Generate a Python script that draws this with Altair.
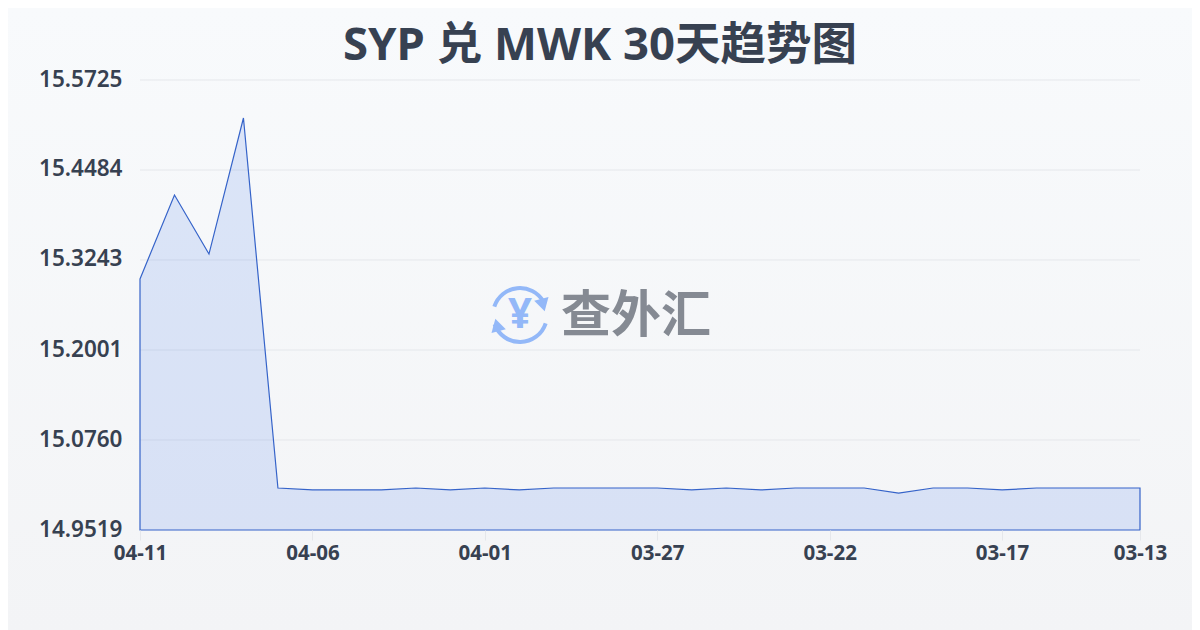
import math
import json
import altair as alt
import pandas as pd

dates = ["04-11","04-10","04-09","04-08","04-07","04-06","04-05","04-04","04-03","04-02",
         "04-01","03-31","03-30","03-29","03-28","03-27","03-26","03-25","03-24","03-23",
         "03-22","03-21","03-20","03-19","03-18","03-17","03-16","03-15","03-14","03-13"]
rates = [15.2981,15.4139,15.3325,15.5201,15.0098,15.0071,15.0071,15.0071,15.0098,15.0071,
         15.0098,15.0071,15.0098,15.0098,15.0098,15.0098,15.0071,15.0098,15.0071,15.0098,
         15.0098,15.0098,15.0029,15.0098,15.0098,15.0071,15.0098,15.0098,15.0098,15.0098]
y_ticks = [14.9519,15.0760,15.2001,15.3243,15.4484,15.5725]
x_ticks = [0, 5, 10, 15, 20, 25, 29]
title_text = "SYP 兑 MWK 30天趋势图"
mark_text = "查外汇"
FONT = "Noto Sans, Noto Sans CJK SC"
INK = "#374151"
BLUE = "#93b8f8"

df = pd.DataFrame({"idx": list(range(len(dates))), "date": dates, "rate": rates,
                   "base": [y_ticks[0]] * len(dates)})
one = pd.DataFrame({"a": [0]})
grid_df = pd.DataFrame({"rate": y_ticks[1:]})

yscale = alt.Scale(domain=[y_ticks[0], y_ticks[-1]], zero=False, nice=False)
x = alt.X("idx:Q", title=None,
          scale=alt.Scale(domain=[0, len(dates) - 1], nice=False, zero=False),
          axis=alt.Axis(values=x_ticks, labelExpr=json.dumps(dates) + "[datum.value]",
                        labelAngle=0, labelFontSize=20.5, labelFontWeight=700, labelFlush=False,
                        labelColor=INK, labelFont=FONT, labelPadding=3, tickColor="#e5e7eb",
                        tickSize=10, domain=False, grid=False, labelOverlap=False, zindex=1))
y = alt.Y("rate:Q", title=None, scale=yscale,
          axis=alt.Axis(values=y_ticks, format=".4f", labelFontSize=22.5, labelFontWeight=600,
                        labelColor=INK, labelFont=FONT, labelPadding=18, labelOffset=-1, tickSize=0,
                        labelFlush=False, domain=False, grid=False, zindex=1))

bg = alt.Chart(one).mark_rect(
    color=alt.LinearGradient(gradient="linear", x1=0, x2=0, y1=0, y2=1,
        stops=[alt.GradientStop(offset=0, color="#f8fafc"), alt.GradientStop(offset=1, color="#f3f4f6")])
).encode(x=alt.value(-132), x2=alt.value(1052), y=alt.value(-72), y2=alt.value(550))

grid = alt.Chart(grid_df).mark_rule(color="#e5e7eb", strokeWidth=1).encode(
    y=y, x=alt.value(0), x2=alt.value(1000))

area = alt.Chart(df).mark_area(
    stroke="#3563c9", strokeWidth=1.2, fill="#2f6be8", fillOpacity=0.14
).encode(x=x, y=y, y2="base:Q")

arc = lambda a, b: alt.Chart(one).mark_arc(color=BLUE).encode(
    x=alt.value(380), y=alt.value(235), radius=alt.value(29), radius2=alt.value(25),
    theta=alt.value(math.radians(a)), theta2=alt.value(math.radians(b)))
head = lambda px, py, ang: alt.Chart(one).mark_point(
    shape="triangle-up", filled=True, color=BLUE, opacity=1, size=220, angle=ang
).encode(x=alt.value(px), y=alt.value(py))
yen = alt.Chart(one).mark_text(text="¥", font=FONT, fontWeight="bold", fontSize=42, color=BLUE).encode(
    x=alt.value(380), y=alt.value(235))
wm = alt.Chart(one).mark_text(text=mark_text, font="Noto Sans CJK SC", fontWeight="bold", fontSize=50, color="#858a93").encode(
    x=alt.value(496), y=alt.value(237))
title = alt.Chart(one).mark_text(text=title_text, font=FONT, fontWeight="bold", fontSize=45.5, color=INK).encode(
    x=alt.value(460), y=alt.value(-34))

chart = alt.layer(
    bg, grid, area, arc(-72, 60), arc(108, 250), head(403, 225, 165), head(357, 245, 345), yen, wm, title
).properties(
    width=1000, height=450,
    padding={"left": 132, "top": 72, "right": 52, "bottom": 100},
    autosize=alt.AutoSizeParams(type="none"),
    background="#f6f7f9",
).configure_view(stroke=None)

chart.save("out.html", embed_options={"renderer": "svg", "actions": False})
